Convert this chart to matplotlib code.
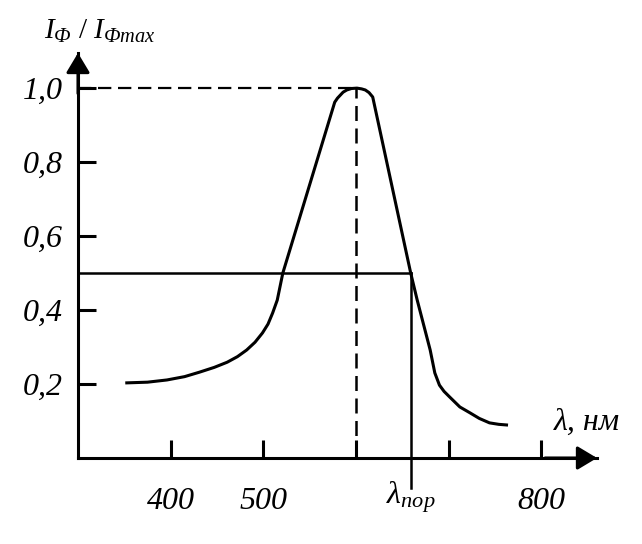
import matplotlib
matplotlib.use("Agg")
import matplotlib.pyplot as plt

# spectral curve
wavelength = [351, 375, 396, 415, 431, 447, 461, 472, 482, 491, 499, 505, 510,
              515, 521, 577, 580, 583, 586, 590, 595, 601, 606, 610, 614, 618,
              659, 666, 680, 685, 690, 695, 701, 712, 723, 733, 744, 754, 764]
intensity = [0.203, 0.205, 0.211, 0.220, 0.232, 0.245, 0.259, 0.274, 0.292,
             0.313, 0.338, 0.362, 0.392, 0.427, 0.5, 0.962, 0.973, 0.981,
             0.989, 0.995, 0.999, 1.0, 0.998, 0.995, 0.988, 0.976, 0.5,
             0.427, 0.292, 0.23, 0.197, 0.180, 0.165, 0.138, 0.122, 0.107,
             0.095, 0.091, 0.089]

x_ticks = [400, 500, 600, 700, 800]
x_labels = ["400", "500", "", "", "800"]
y_ticks = [0.2, 0.4, 0.6, 0.8, 1.0]
y_labels = ["0,2", "0,4", "0,6", "0,8", "1,0"]

peak_x = 600
peak_y = 1.0
threshold_x = 659
threshold_y = 0.5

plt.rcParams["font.family"] = ["Liberation Serif", "DejaVu Serif"]
plt.rcParams["mathtext.fontset"] = "custom"
plt.rcParams["mathtext.rm"] = "Liberation Serif"
plt.rcParams["mathtext.it"] = "Liberation Serif:italic"
plt.rcParams["mathtext.bf"] = "Liberation Serif:bold"

W, H = 642, 544
fig = plt.figure(figsize=(W / 100, H / 100), dpi=100)
ax = fig.add_axes([78 / W, (H - 458) / H, (597 - 78) / W, (458 - 53) / H])
ax.set_xlim(300, 860)
ax.set_ylim(0, 1.095)

lw = 2.2
for s in ["top", "right"]:
    ax.spines[s].set_visible(False)
for s in ["left", "bottom"]:
    ax.spines[s].set_linewidth(lw)

ax.plot(wavelength, intensity, color="black", lw=2.2, solid_capstyle="butt")

# dashed lines to the maximum
ax.plot([300, peak_x], [peak_y, peak_y], color="black", lw=1.6,
        dashes=(6, 3))
ax.plot([peak_x, peak_x], [0, peak_y], color="black", lw=1.8, dashes=(6, 3))

# half-level line and threshold wavelength
ax.plot([300, threshold_x], [threshold_y, threshold_y], color="black", lw=1.8)
ax.plot([threshold_x, threshold_x], [-0.081, threshold_y], color="black",
        lw=1.8, clip_on=False)

ax.set_xticks(x_ticks)
ax.set_xticklabels(x_labels, fontsize=23, style="italic")
ax.set_yticks(y_ticks)
ax.set_yticklabels(y_labels, fontsize=23, style="italic")
ax.tick_params(axis="both", direction="in", length=13, width=lw)
ax.tick_params(axis="x", pad=21)
ax.tick_params(axis="y", pad=11)

# arrow heads
arr = dict(arrowstyle="-|>,head_length=0.6,head_width=0.36", color="black",
           lw=lw, shrinkA=0, shrinkB=0, mutation_scale=20)
ax.annotate("", xy=(0, 1), xytext=(0, 0.9), xycoords="axes fraction",
            arrowprops=arr, annotation_clip=False)
ax.annotate("", xy=(1, 0), xytext=(0.9, 0), xycoords="axes fraction",
            arrowprops=arr, annotation_clip=False)

fig.text(44 / W, 1 - 31 / H, r"$I_{Ф}$ / $I_{Фmax}$", fontsize=21,
         ha="left", va="center")
fig.text(554 / W, 1 - 422 / H, "λ, нм", fontsize=23, style="italic",
         ha="left", va="center")
ax.annotate(r"$λ_{пор}$", xy=(threshold_x, 0), xytext=(0, -28),
            textcoords="offset points", ha="center", va="center",
            fontsize=23, annotation_clip=False)

fig.savefig("out.png", dpi=100)
